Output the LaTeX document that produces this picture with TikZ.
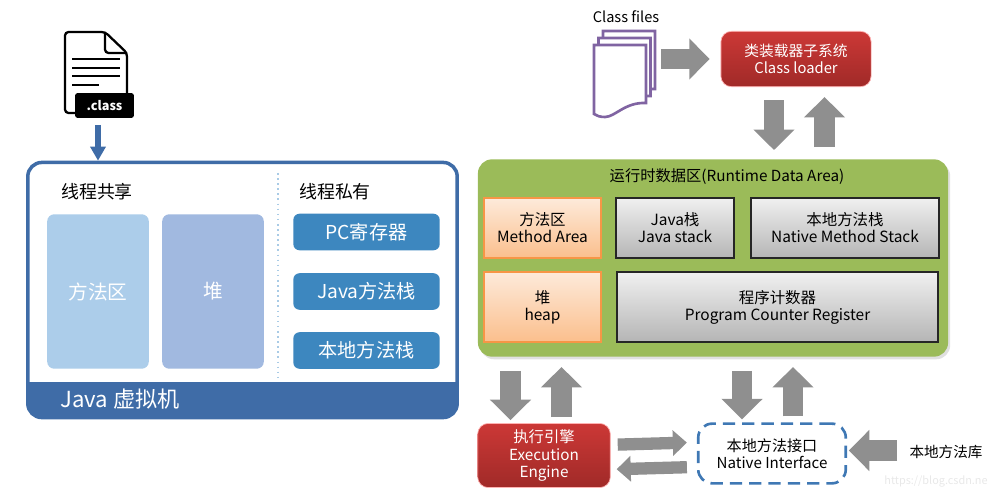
\documentclass[tikz,border=0pt]{standalone}
\usepackage{fontspec}
\setmainfont{Noto Sans CJK SC}
\usetikzlibrary{arrows.meta,shadows}

\definecolor{vmblue}{HTML}{3F6CA7}
\definecolor{privblue}{HTML}{3D87BF}
\definecolor{areablue}{HTML}{ACCDEA}
\definecolor{heapblue}{HTML}{A1B9E0}
\definecolor{dotblue}{HTML}{A9CBE6}
\definecolor{areagreen}{HTML}{9BBB59}
\definecolor{arrowgray}{HTML}{8F8F8F}
\definecolor{pagepurple}{HTML}{8064A2}
\definecolor{dashblue}{HTML}{3F78B4}
\definecolor{redtop}{HTML}{CC3836}
\definecolor{redbottom}{HTML}{A02A28}
\definecolor{orangeline}{HTML}{F79646}
\definecolor{orangetop}{HTML}{FDEADA}
\definecolor{orangebottom}{HTML}{FBBF8D}
\definecolor{graytop}{HTML}{F0F0F0}
\definecolor{graybottom}{HTML}{B5B5B5}

\tikzset{
    sharebox/.style={rounded corners=4pt, minimum width=57.8pt, minimum height=87.9pt, text=white, font=\fontsize{11.2}{13}\selectfont},
    privbox/.style={fill=privblue, rounded corners=3.5pt, minimum width=83.3pt, minimum height=20.8pt, text=white, font=\fontsize{10.9}{13}\selectfont},
    redbox/.style={rounded corners=6pt, top color=redtop, bottom color=redbottom, draw=red!30!white, line width=0.4pt, text=white, align=center, font=\fontsize{8.4}{9.7}\selectfont},
    orangebox/.style={draw=orangeline, line width=1.1pt, top color=orangetop, bottom color=orangebottom, align=center, minimum width=66.2pt, font=\fontsize{8.8}{9.7}\selectfont},
    graybox/.style={draw=black!85, line width=1.1pt, top color=graytop, bottom color=graybottom, align=center, font=\fontsize{8.8}{9.7}\selectfont},
    bigarrow/.style={draw=arrowgray, line width=11.9pt, -{Triangle[length=11.6pt,width=22.7pt,fill=arrowgray]}},
    smallarrow/.style={draw=arrowgray, line width=7pt, -{Triangle[length=8pt,width=14.2pt,fill=arrowgray]}},
    plaintext/.style={font=\fontsize{8.3}{9.7}\selectfont},
}

\begin{document}
\begin{tikzpicture}[x=0.02cm, y=-0.02cm, >=Stealth]
    \useasboundingbox (0,0) rectangle (989,496);

    % .class 文件图标
    \draw[line width=1.3pt, rounded corners=2pt, fill=white] (105,32) -- (65,32) -- (65,113) -- (127,113) -- (127,53) -- cycle;
    \draw[line width=1.3pt, rounded corners=2pt] (105,32) -- (105,53) -- (127,53);
    \foreach \y/\xe in {59/120, 68/120, 76/120, 85/99} {
        \draw[line width=1.1pt] (72,\y) -- (\xe,\y);
    }
    \node[fill=black, rounded corners=1.5pt, text=white, minimum width=33.5pt, minimum height=14.2pt, inner sep=0pt, font=\fontsize{7.2}{8}\bfseries\selectfont] (classtag) at (104.5,105.5) {.class};

    % Java 虚拟机
    \node[draw=vmblue, line width=2pt, rounded corners=8pt, fill=white, minimum width=244.4pt, minimum height=145.2pt, inner sep=0pt] (vm) at (242.5,290) {};
    \fill[vmblue, rounded corners=8pt] (27,382) -- (27,418) -- (458,418) -- (458,382) [sharp corners] -- cycle;
    \fill[vmblue] (27,382) rectangle (458,390);
    \node[text=white, anchor=west, inner sep=0pt, font=\fontsize{12.6}{15}\selectfont] (vmname) at (60,399) {Java 虚拟机};
    \coordinate (classout) at (98,125);
    \draw[draw=vmblue, line width=3pt, -{Triangle[length=8pt,width=8.5pt,fill=vmblue]}] (classout) -- (classout |- vm.north);

    \node[font=\fontsize{10.2}{12}\selectfont] (shared) at (97,192) {线程共享};
    \node[font=\fontsize{10.2}{12}\selectfont] (private) at (335,192) {线程私有};
    \draw[dotblue, line width=0.9pt, dotted] (278,173) -- (278,378);

    \node[sharebox, fill=areablue] (sharearea) at (98,291.5) {方法区};
    \node[sharebox, fill=heapblue] (shareheap) at (213,291.5) {堆};
    \node[privbox] (pc) at (366.5,232) {PC寄存器};
    \node[privbox] (javastack) at (366.5,291.5) {Java方法栈};
    \node[privbox] (nativestack) at (366.5,350.5) {本地方法栈};

    % 类文件
    \node[plaintext] (classfiles) at (626,17) {Class files};
    \foreach \dx/\dy in {9/-14, 4.5/-7, 0/0} {
        \begin{scope}[shift={(\dx,\dy)}]
            \draw[pagepurple, line width=1.5pt, fill=white] (594,45) -- (646,45) -- (646,103) .. controls (625,102) and (615,117) .. (605,117) .. controls (600,117) and (597,116) .. (594,114) -- cycle;
        \end{scope}
    }
    \coordinate (filesout) at (661,59);

    % 类装载器
    \node[redbox, minimum width=85.5pt, minimum height=31.5pt] (loader) at (796,59) {类装载器子系统\\Class loader};

    % 运行时数据区
    \node[fill=areagreen, rounded corners=8pt, minimum width=267.6pt, minimum height=112.3pt, inner sep=0pt, drop shadow={shadow xshift=1.2pt, shadow yshift=-1.5pt, fill=black!12, opacity=1}] (runtime) at (713,258) {};
    \node[font=\fontsize{8.7}{9.7}\selectfont] (runtimename) at (727,177) {运行时数据区(Runtime Data Area)};
    \node[orangebox, minimum height=34pt] (method) at (542.5,228) {方法区\\Method Area};
    \node[orangebox, minimum height=39.6pt] (heap) at (542.5,307) {堆\\heap};
    \node[graybox, minimum width=66.9pt, minimum height=34pt] (stack) at (675,228) {Java栈\\Java stack};
    \node[graybox, minimum width=106.6pt, minimum height=34pt] (native) at (845,228) {本地方法栈\\Native Method Stack};
    \node[graybox, minimum width=183.2pt, minimum height=39.6pt] (counter) at (777.5,307) {程序计数器\\Program Counter Register};

    % 执行引擎 与 本地方法接口
    \node[redbox, minimum width=75.5pt, minimum height=36.5pt, font=\fontsize{8.7}{9.7}\selectfont] (engine) at (544,455.5) {执行引擎\\Execution\\Engine};
    \node[draw=dashblue, line width=1.5pt, dash pattern=on 7pt off 4pt, rounded corners=8pt, align=center, minimum width=84pt, minimum height=34pt, font=\fontsize{8.6}{9.7}\selectfont] (interface) at (772,453.5) {本地方法接口\\Native Interface};
    \node[plaintext] (library) at (946,452) {本地方法库};
    \node[text=black!9, font=\fontsize{6.2}{9}\selectfont, inner sep=0pt, anchor=east] (mark) at (988,482) {https://blog.csdn.ne};

    % 灰色箭头
    \draw[bigarrow] (filesout) -- ([xshift=-6.2pt]loader.west);
    \coordinate (x1) at (774,0);
    \coordinate (x2) at (824.5,0);
    \coordinate (x3) at (510.5,0);
    \coordinate (x4) at (561.5,0);
    \coordinate (x5) at (742,0);
    \coordinate (x6) at (793,0);
    \draw[bigarrow, shorten <=7.4pt, shorten >=5.1pt] (x1 |- loader.south) -- (x1 |- runtime.north);
    \draw[bigarrow, shorten <=6.8pt, shorten >=5.7pt] (x2 |- runtime.north) -- (x2 |- loader.south);
    \draw[bigarrow, shorten <=7.9pt, shorten >=1.7pt] (x3 |- runtime.south) -- (x3 |- engine.north);
    \draw[bigarrow, shorten <=3.4pt, shorten >=5.7pt] (x4 |- engine.north) -- (x4 |- runtime.south);
    \draw[bigarrow, shorten <=7.9pt, shorten >=1.7pt] (x5 |- runtime.south) -- (x5 |- interface.north);
    \draw[bigarrow, shorten <=3.4pt, shorten >=5.7pt] (x6 |- interface.north) -- (x6 |- runtime.south);
    \draw[smallarrow] ([shift={(4pt,6.2pt)}]engine.east) -- ([shift={(-5.7pt,6.2pt)}]interface.west);
    \draw[smallarrow] ([shift={(-5.7pt,-7.8pt)}]interface.west) -- ([shift={(3.4pt,-7.8pt)}]engine.east);
    \coordinate (libraryout) at (897,450.5);
    \draw[bigarrow] (libraryout) -- ([xshift=1pt]interface.east |- libraryout);
\end{tikzpicture}
\end{document}
